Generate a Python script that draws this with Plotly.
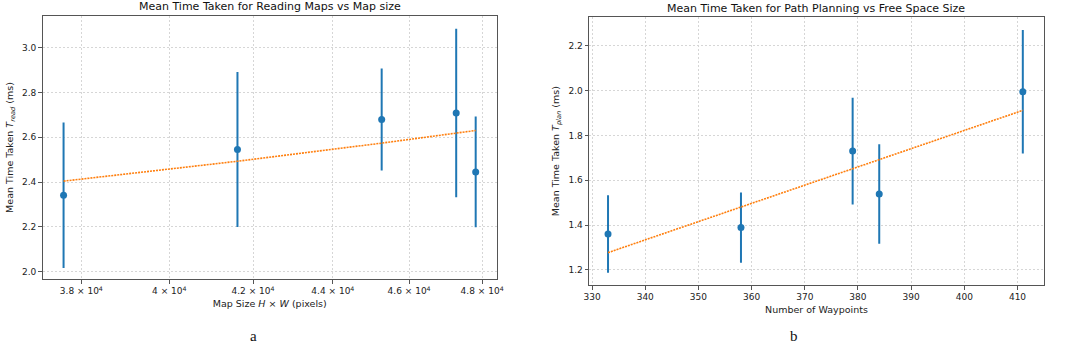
import numpy as np
import plotly.graph_objects as go

# ---- Data: panel a ----
map_size = [37608, 41620, 45270, 47280, 47820]
t_read = [2.341, 2.545, 2.679, 2.708, 2.445]
t_read_err = [0.325, 0.346, 0.228, 0.376, 0.247]

# ---- Data: panel b ----
waypoints = [333, 358, 379, 384, 411]
t_plan = [1.3605, 1.389, 1.7305, 1.539, 1.995]
t_plan_err = [0.173, 0.157, 0.238, 0.222, 0.275]

# tick labels
a_tickvals = [38000, 40000, 42000, 44000, 46000, 48000]
a_ticktext = ["3.8 × 10<sup>4</sup>", "4 × 10<sup>4</sup>", "4.2 × 10<sup>4</sup>",
              "4.4 × 10<sup>4</sup>", "4.6 × 10<sup>4</sup>", "4.8 × 10<sup>4</sup>"]
a_ytick = [2.0, 2.2, 2.4, 2.6, 2.8, 3.0]
b_xtick = [330, 340, 350, 360, 370, 380, 390, 400, 410]
b_ytick = [1.2, 1.4, 1.6, 1.8, 2.0, 2.2]

BLUE = "#1f77b4"
ORANGE = "#ff7f0e"

# linear fits
ca = np.polyfit(map_size, t_read, 1)
xa = sorted(map_size)
fa = np.polyval(ca, xa)
cb = np.polyfit(waypoints, t_plan, 1)
xb = sorted(waypoints)
fb = np.polyval(cb, xb)

fig = go.Figure()
fig.add_trace(go.Scatter(x=map_size, y=t_read, mode="markers",
                         marker=dict(color=BLUE, size=7),
                         error_y=dict(type="data", array=t_read_err, color=BLUE, thickness=2, width=0),
                         xaxis="x", yaxis="y", showlegend=False))
fig.add_trace(go.Scatter(x=xa, y=fa, mode="lines",
                         line=dict(color=ORANGE, width=1.6, dash="2px,1px"),
                         xaxis="x", yaxis="y", showlegend=False))
fig.add_trace(go.Scatter(x=waypoints, y=t_plan, mode="markers",
                         marker=dict(color=BLUE, size=7),
                         error_y=dict(type="data", array=t_plan_err, color=BLUE, thickness=2, width=0),
                         xaxis="x2", yaxis="y2", showlegend=False))
fig.add_trace(go.Scatter(x=xb, y=fb, mode="lines",
                         line=dict(color=ORANGE, width=1.6, dash="2px,1px"),
                         xaxis="x2", yaxis="y2", showlegend=False))

axis_common = dict(showline=True, linecolor="#555", linewidth=1, mirror=True,
                   ticks="outside", ticklen=3.5, tickcolor="#555",
                   showgrid=True, gridcolor="#d6d6d6", griddash="2px,2px", gridwidth=1,
                   zeroline=False, tickfont=dict(size=9, color="#222"))

W, H = 1065, 345

def dom_x(a, b):
    return [a / W, b / W]

def dom_y(top, bottom):
    return [(H - bottom) / H, (H - top) / H]

fig.update_layout(
    width=W, height=H, margin=dict(l=0, r=0, t=0, b=0),
    paper_bgcolor="white", plot_bgcolor="white",
    font=dict(family="DejaVu Sans", color="#222"),
    xaxis=dict(axis_common, type="log", domain=dom_x(37, 497),
               range=[np.log10(37150), np.log10(48416)],
               tickvals=a_tickvals, ticktext=a_ticktext, anchor="y",
               title=dict(text="Map Size <i>H</i> × <i>W</i> (pixels)", font=dict(size=9.5), standoff=5)),
    yaxis=dict(axis_common, domain=dom_y(16, 279), range=[1.967, 3.141],
               tickvals=a_ytick, ticktext=[f"{v:.1f}" for v in a_ytick], anchor="x",
               title=dict(text="Mean Time Taken <i>T</i><sub><i>read</i></sub> (ms)", font=dict(size=9.5), standoff=6)),
    xaxis2=dict(axis_common, domain=dom_x(590.3, 1050.7), range=[329.44, 414.96],
                tickvals=b_xtick, anchor="y2",
                title=dict(text="Number of Waypoints", font=dict(size=9.5), standoff=5)),
    yaxis2=dict(axis_common, domain=dom_y(17.3, 285), range=[1.133, 2.327],
                tickvals=b_ytick, ticktext=[f"{v:.1f}" for v in b_ytick], anchor="x2",
                title=dict(text="Mean Time Taken <i>T</i><sub><i>plan</i></sub> (ms)", font=dict(size=9.5), standoff=7)),
    annotations=[
        dict(text="Mean Time Taken for Reading Maps vs Map size", x=(37 + 497) / 2 / W, y=1 - 7 / H,
             xref="paper", yref="paper", showarrow=False, xanchor="center", yanchor="middle",
             font=dict(size=11, color="#111")),
        dict(text="Mean Time Taken for Path Planning vs Free Space Size", x=(590.3 + 1050.7) / 2 / W, y=1 - 8 / H,
             xref="paper", yref="paper", showarrow=False, xanchor="center", yanchor="middle",
             font=dict(size=11, color="#111")),
        dict(text="a", x=251 / W, y=0, xref="paper", yref="paper", showarrow=False, borderpad=0,
             xanchor="center", yanchor="bottom", font=dict(family="Liberation Serif", size=15, color="#111")),
        dict(text="b", x=798 / W, y=0, xref="paper", yref="paper", showarrow=False, borderpad=0,
             xanchor="center", yanchor="bottom", font=dict(family="Liberation Serif", size=15, color="#111")),
    ],
)

fig.write_html("out.html", config={"displayModeBar": False},
               post_script="document.body.style.margin='0';document.body.style.overflow='hidden';")
